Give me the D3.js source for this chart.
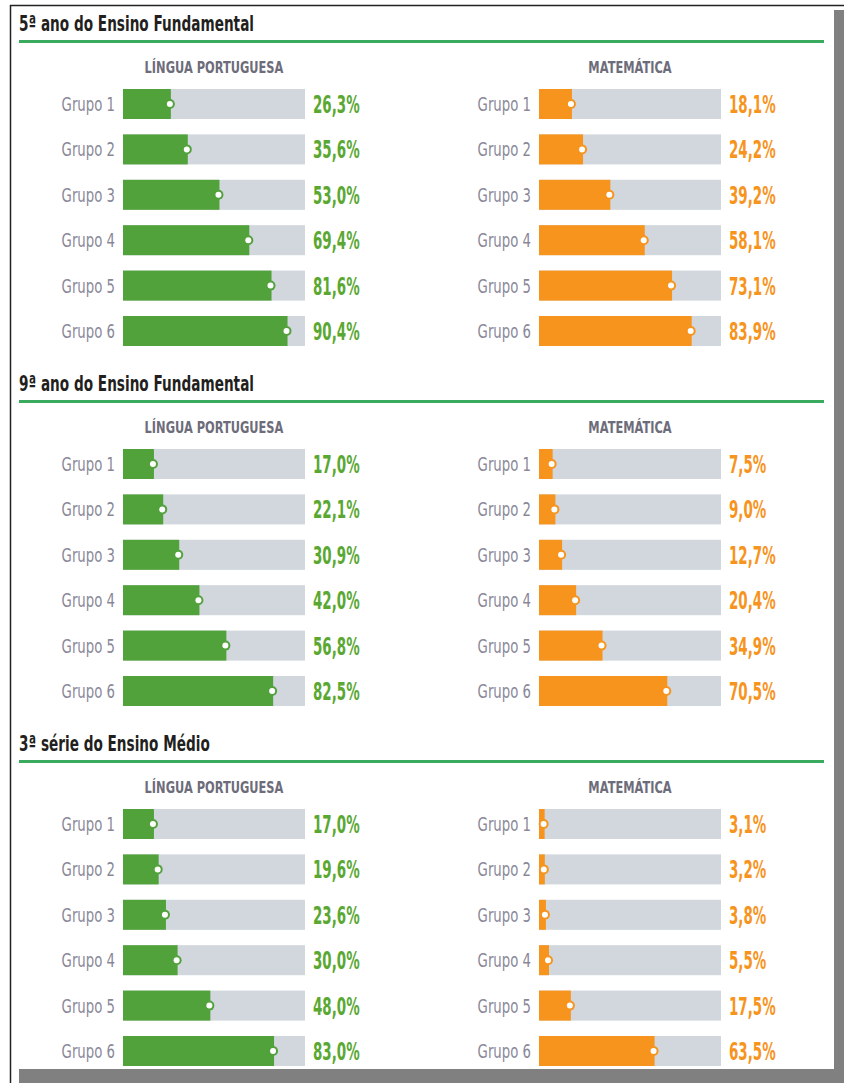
<!DOCTYPE html>
<html><head><meta charset="utf-8">
<script src="https://cdn.jsdelivr.net/npm/d3@7"></script>
<style>
html,body{margin:0;padding:0;background:#fff;}
svg{display:block;}
text{font-family:"DejaVu Sans",sans-serif;}
</style></head>
<body>
<script>
const sections = ["5ª ano do Ensino Fundamental", "9ª ano do Ensino Fundamental", "3ª série do Ensino Médio"];
const subjects = ["LÍNGUA PORTUGUESA", "MATEMÁTICA"];
const groups = ["Grupo 1", "Grupo 2", "Grupo 3", "Grupo 4", "Grupo 5", "Grupo 6"];
const lp5 = [26.3, 35.6, 53.0, 69.4, 81.6, 90.4];
const mat5 = [18.1, 24.2, 39.2, 58.1, 73.1, 83.9];
const lp9 = [17.0, 22.1, 30.9, 42.0, 56.8, 82.5];
const mat9 = [7.5, 9.0, 12.7, 20.4, 34.9, 70.5];
const lp3 = [17.0, 19.6, 23.6, 30.0, 48.0, 83.0];
const mat3 = [3.1, 3.2, 3.8, 5.5, 17.5, 63.5];

const seriesBySection = [[lp5, mat5], [lp9, mat9], [lp3, mat3]];

const W = 844, H = 1083;
const svg = d3.select("body").append("svg").attr("width", W).attr("height", H);

// frame
svg.append("rect").attr("x", 834).attr("y", 10).attr("width", 10).attr("height", H - 10).attr("fill", "#808080");
svg.append("rect").attr("x", 19).attr("y", 1069).attr("width", W - 19).attr("height", 14).attr("fill", "#808080");
svg.append("line").attr("x1", 10.5).attr("x2", 10.5).attr("y1", 5).attr("y2", H).attr("stroke", "#222").attr("stroke-width", 1.5);
svg.append("line").attr("x1", 10).attr("x2", W).attr("y1", 5.5).attr("y2", 5.5).attr("stroke", "#222").attr("stroke-width", 1.5);

const secY = d3.scaleBand().domain(sections).range([0, 1080]);
const rowY = d3.scaleBand().domain(groups).range([81.3, 353.7]).paddingInner(0.339).paddingOuter(0.1695);
const xScales = [
  d3.scaleLinear().domain([0, 100]).range([123, 305]),
  d3.scaleLinear().domain([0, 100]).range([539, 721])
];
const fillColors = ["#52a23c", "#f7941d"];
const textColors = ["#5aa832", "#f7941d"];
const fmt = v => d3.format(".1f")(v).replace(".", ",") + "%";
const tr = (x, y, s) => `translate(${x},${y}) scale(${s},1)`;

sections.forEach((sec, si) => {
  const g = svg.append("g").attr("transform", `translate(0,${secY(sec)})`);
  g.append("text").attr("transform", tr(19, 31, 0.62)).attr("font-size", 22).attr("font-weight", "bold")
    .attr("fill", "#231f20").text(sec);
  g.append("line").attr("x1", 19).attr("x2", 824).attr("y1", 41.5).attr("y2", 41.5)
    .attr("stroke", "#3aaa5e").attr("stroke-width", 3);

  subjects.forEach((sub, k) => {
    const x = xScales[k];
    const vals = seriesBySection[si][k];
    g.append("text").attr("transform", tr((x.range()[0] + x.range()[1]) / 2, 73, 0.76))
      .attr("text-anchor", "middle").attr("font-size", 15).attr("font-weight", "bold")
      .attr("fill", "#6d6c7a").text(sub);

    const rows = g.selectAll(null).data(groups).enter().append("g");
    rows.append("text").attr("transform", d => tr(x(0) - 8, rowY(d) + rowY.bandwidth() / 2 + 7, 0.70))
      .attr("text-anchor", "end").attr("font-size", 19).attr("fill", "#8a8898").text(d => d);
    rows.append("rect").attr("x", x(0)).attr("y", d => rowY(d))
      .attr("width", x(100) - x(0)).attr("height", rowY.bandwidth()).attr("fill", "#d1d7dd");
    rows.append("rect").attr("x", x(0)).attr("y", d => rowY(d))
      .attr("width", (d, i) => x(vals[i]) - x(0)).attr("height", rowY.bandwidth()).attr("fill", fillColors[k]);
    rows.append("circle").attr("cx", (d, i) => x(vals[i]) - 1).attr("cy", d => rowY(d) + rowY.bandwidth() / 2)
      .attr("r", 5).attr("fill", fillColors[k]);
    rows.append("circle").attr("cx", (d, i) => x(vals[i]) - 1).attr("cy", d => rowY(d) + rowY.bandwidth() / 2)
      .attr("r", 3).attr("fill", "#fff");
    rows.append("text").attr("transform", d => tr(x(100) + 8, rowY(d) + rowY.bandwidth() / 2 + 9, 0.56))
      .attr("font-size", 24).attr("font-weight", "bold").attr("fill", textColors[k])
      .text((d, i) => fmt(vals[i]));
  });
});
</script>
</body></html>
